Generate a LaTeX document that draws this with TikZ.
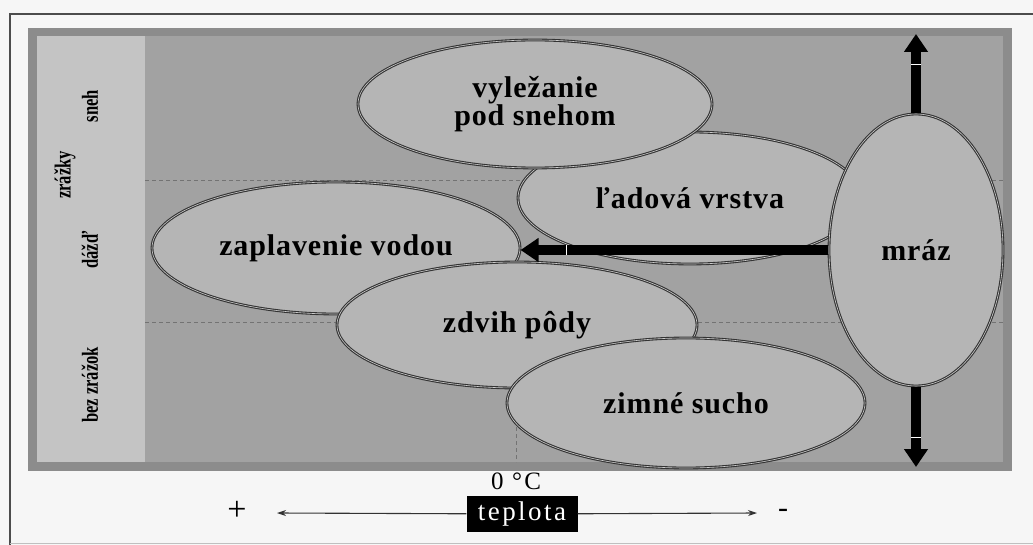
\documentclass[tikz,border=0pt]{standalone}
\usepackage{fontspec}
\setmainfont{Liberation Serif}
\newfontfamily\spacedfont[LetterSpace=3]{Liberation Serif}
\newfontfamily\widefont[LetterSpace=9]{Liberation Serif}
\newfontfamily\narrowfont[FakeStretch=0.72]{Liberation Serif}
\usetikzlibrary{arrows.meta,shapes.geometric,decorations.markings}
\definecolor{paper}{HTML}{F6F6F6}
\definecolor{rim}{HTML}{8C8C8C}
\definecolor{field}{HTML}{A2A2A2}
\definecolor{strip}{HTML}{C4C4C4}
\definecolor{blob}{HTML}{B5B5B5}
\definecolor{edge}{HTML}{333333}

\begin{document}
\begin{tikzpicture}[x=1pt,y=-1pt,
 zone/.style={ellipse,draw=edge,line width=1.1pt,double=white!80!black,double distance=0.6pt,fill=blob,inner sep=0pt,align=center,font=\spacedfont\bfseries\fontsize{30}{27}\selectfont},
 side/.style={rotate=90,inner sep=0pt,font=\narrowfont\bfseries\fontsize{23}{23}\selectfont},
 guide/.style={draw=black!55,line width=0.5pt,dash pattern=on 4pt off 3pt},
 bigarrow/.style={-{Triangle[length=18pt,width=23pt]},line width=10pt,draw=black,postaction={decorate},
  decoration={markings,mark=at position -#1 with {\draw[-,white,line width=1pt] (0pt,-5pt) -- (0pt,5pt);}}},
 axis/.style={-{Stealth[length=9pt,width=6pt]},line width=1.1pt,draw=black!80}]
\fill[paper] (0,0) rectangle (1033,545);
\useasboundingbox (0,0) rectangle (1033,545);
\draw[line width=2.5pt,black!70] (1033,14) -- (10,14) -- (10,545);
\draw[line width=1pt,black!25] (10,543.5) -- (1033,543.5);
\fill[rim] (28,28) rectangle (1012,471);
\fill[field] (37,36) rectangle (1003,462);
\fill[strip] (37,36) rectangle (145,462);
\draw[guide] (145,180) -- (1003,180);
\draw[guide] (145,322) -- (1003,322);
\draw[guide] (516,322) -- (516,462);
\node[side] (snowfall) at (90,106) {sneh};
\node[side] (precip) at (65,175) {zrážky};
\node[side] (rain) at (90,250) {dážď};
\node[side] (dry) at (90,385) {bez zrážok};
\node[zone,minimum width=344pt,minimum height=132pt] (ice) at (690,198) {ľadová vrstva};
\node[zone,minimum width=354pt,minimum height=128pt] (snow) at (535,104) {vyležanie\\pod snehom};
\node[zone,minimum width=368pt,minimum height=132pt] (flood) at (336,248) {zaplavenie vodou};
\node[zone,minimum width=360pt,minimum height=126pt] (heave) at (517,325) {zdvih pôdy};
\node[zone,minimum width=358pt,minimum height=130pt] (drought) at (686,403) {zimné sucho};
\node[zone,minimum width=174pt,minimum height=272pt] (frost) at (916,250) {mráz};
\coordinate (ceil) at (916,34);
\coordinate (floor) at (916,467);
\draw[bigarrow=31pt] (frost.north) -- (ceil);
\draw[bigarrow=30pt] (frost.south) -- (floor);
\draw[bigarrow=46pt] (frost.west) -- (frost.west -| flood.east);
\node[font=\widefont\fontsize{25}{25}\selectfont] (zero) at (516,481) {0 °C};
\node[fill=black,text=white,minimum width=111pt,minimum height=36pt,inner sep=0pt,font=\widefont\fontsize{27}{27}\selectfont] (temp) at (522,514) {teplota};
\node[font=\fontsize{34}{34}\selectfont] (plus) at (237,511) {+};
\node[font=\fontsize{30}{30}\selectfont] (minus) at (783,513) {-};
\coordinate (hot) at (277,513);
\coordinate (cold) at (757,513);
\draw[axis] (temp) -- (hot);
\draw[axis] (temp) -- (cold);
\end{tikzpicture}
\end{document}
